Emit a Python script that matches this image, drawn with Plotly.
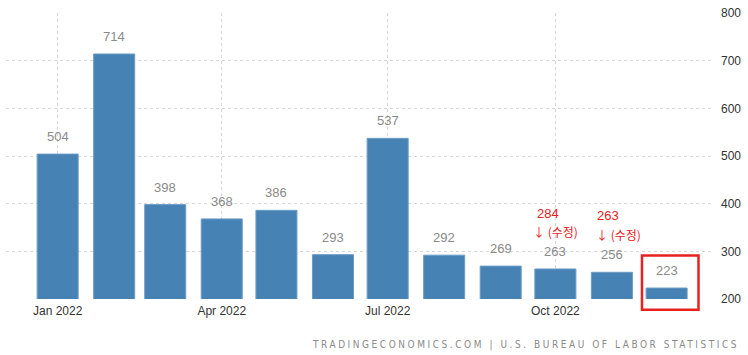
import plotly.graph_objects as go
from datetime import datetime, timedelta

months = ["2022-01-01","2022-02-01","2022-03-01","2022-04-01","2022-05-01","2022-06-01",
          "2022-07-01","2022-08-01","2022-09-01","2022-10-01","2022-11-01","2022-12-01"]
values = [504, 714, 398, 368, 386, 293, 537, 292, 269, 263, 256, 223]
revised_months = ["2022-10-01", "2022-11-01"]
revised_values = [284, 263]
revised_note = "↓ (수정)"
tick_vals = ["2022-01-01", "2022-04-01", "2022-07-01", "2022-10-01"]
tick_text = ["Jan 2022", "Apr 2022", "Jul 2022", "Oct 2022"]
y_ticks = [200, 300, 400, 500, 600, 700, 800]
source = "TRADINGECONOMICS.COM | U.S. BUREAU OF LABOR STATISTICS"

DAY = 86400000
fig = go.Figure()
fig.add_trace(go.Bar(
    x=months, y=values,
    width=[22.5 * DAY] * len(values),
    marker=dict(color="#4682b4", line=dict(color="#6b9cc6", width=1)),
    hoverinfo="x+y",
))

annotations = []
for m, v in zip(months, values):
    annotations.append(dict(x=m, y=v, xref="x", yref="y", text=str(v), showarrow=False,
                            yanchor="bottom", yshift=8,
                            font=dict(family="Liberation Sans, Arial", size=13, color="#8a8a8a")))
note_off = [(-7, 46, 0, 27), (-4, 47, 7, 27)]
for m, (dx1, dy1, dx2, dy2) in zip(revised_months, note_off):
    i = months.index(m)
    v = values[i]
    rv = revised_values[revised_months.index(m)]
    annotations.append(dict(x=m, y=v, xref="x", yref="y", text=str(rv), showarrow=False,
                            yanchor="bottom", yshift=dy1, xshift=dx1,
                            font=dict(family="Liberation Sans, Arial", size=13, color="#e8201e")))
    annotations.append(dict(x=m, y=v, xref="x", yref="y", text=revised_note, showarrow=False,
                            yanchor="bottom", yshift=dy2, xshift=dx2,
                            font=dict(family="Noto Sans CJK KR, Liberation Sans", size=12, color="#e8201e")))
annotations.append(dict(x=1, y=0, xref="paper", yref="paper", xanchor="right", yanchor="top",
                        xshift=27, yshift=-38,
                        text='<span style="letter-spacing:2.55px">' + source + '</span>', showarrow=False,
                        font=dict(family="DejaVu Sans Condensed, DejaVu Sans", size=10, color="#8a8a8a")))

last = datetime(2022, 12, 1)
fig.add_shape(type="rect", xref="x", yref="paper",
              x0=last - timedelta(days=13.5), x1=last + timedelta(days=17.5),
              y0=-0.038, y1=0.152, line=dict(color="#e8201e", width=2.5), fillcolor="rgba(0,0,0,0)")

fig.update_layout(
    width=748, height=355,
    margin=dict(l=6, r=34, t=10, b=56),
    plot_bgcolor="white", paper_bgcolor="white",
    showlegend=False,
    annotations=annotations,
    font=dict(family="Liberation Sans, Arial", size=12, color="#333333"),
)
fig.update_xaxes(
    type="date",
    range=["2021-12-03 16:00", "2022-12-27"],
    tickvals=tick_vals, ticktext=tick_text,
    showgrid=True, gridcolor="#d6d6d6", griddash="dot", gridwidth=1,
    showline=False, zeroline=False, ticks="", ticklen=0, ticklabelstandoff=3,
    tickfont=dict(family="Liberation Sans, Arial", size=12, color="#333333"),
)
fig.update_yaxes(
    range=[200, 800], side="right", tickvals=y_ticks,
    showgrid=True, gridcolor="#d6d6d6", griddash="dot", gridwidth=1,
    showline=False, zeroline=False, ticks="", ticklabelstandoff=6,
    tickfont=dict(family="Liberation Sans, Arial", size=12, color="#333333"),
)
fig.write_html("out.html", config={"displayModeBar": False},
               post_script="document.body.style.margin='0';")
